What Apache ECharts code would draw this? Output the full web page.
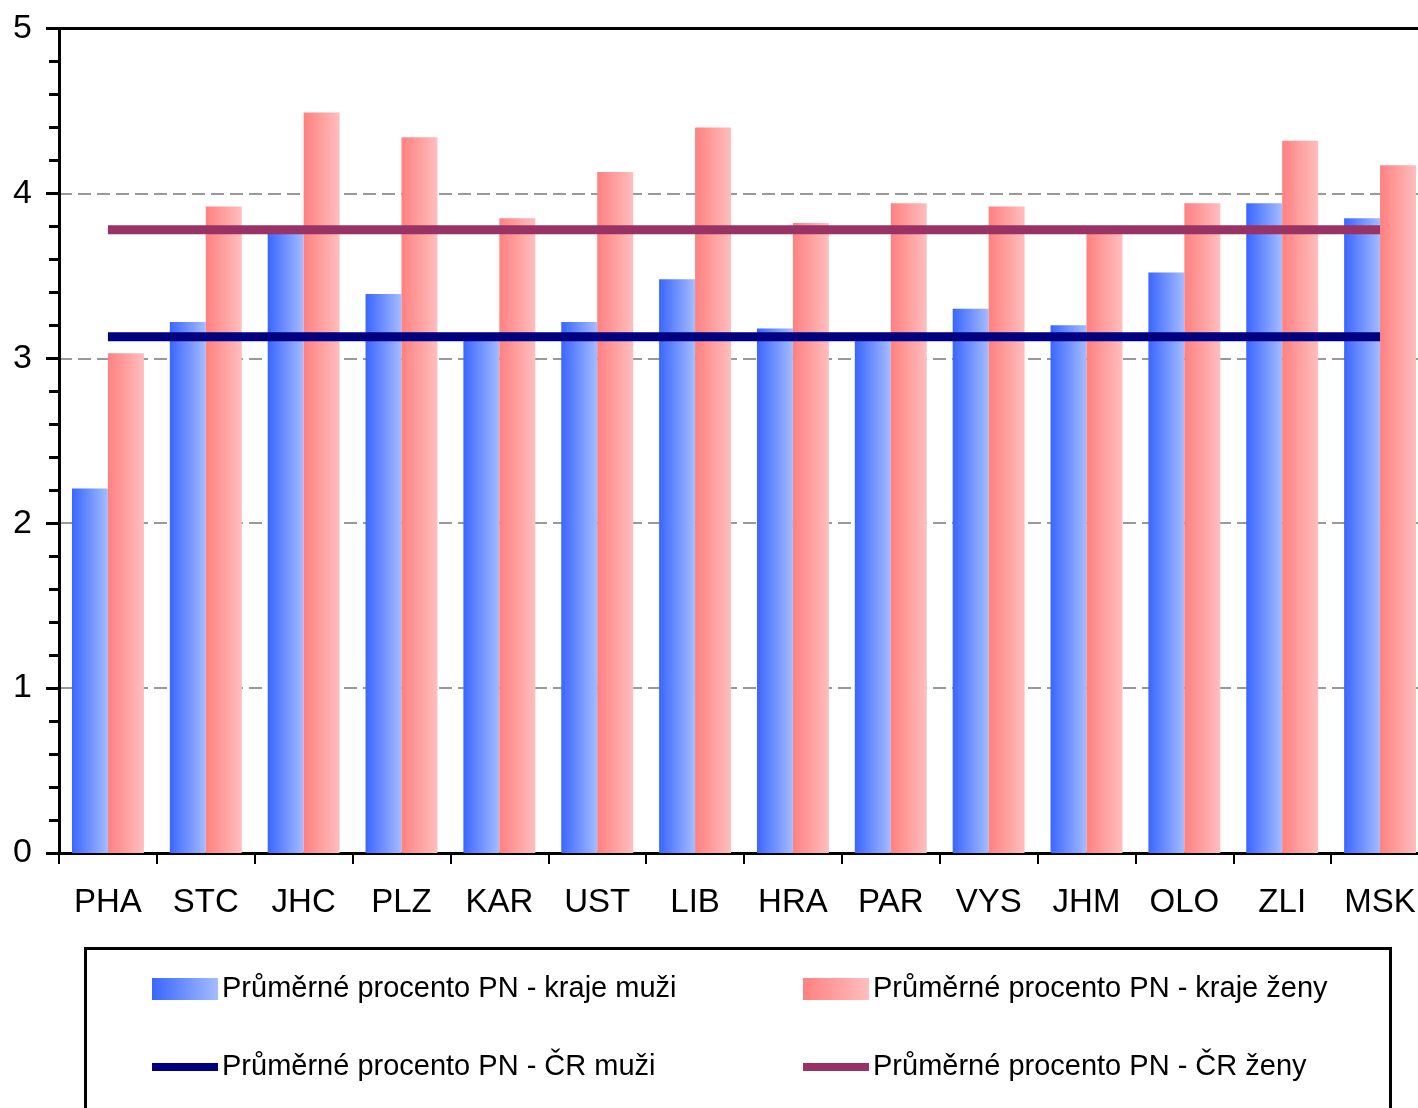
<!DOCTYPE html>
<html>
<head>
<meta charset="utf-8">
<script src="https://cdn.jsdelivr.net/npm/echarts@6/dist/echarts.min.js"></script>
<style>
html,body{margin:0;padding:0;background:#fff;}
#chart{width:1418px;height:1108px;}
</style>
</head>
<body>
<div id="chart"></div>
<script>
const categories = ['PHA','STC','JHC','PLZ','KAR','UST','LIB','HRA','PAR','VYS','JHM','OLO','ZLI','MSK'];
const krajeMuzi = [2.21,3.22,3.79,3.39,3.15,3.22,3.48,3.18,3.12,3.30,3.20,3.52,3.94,3.85];
const krajeZeny = [3.03,3.92,4.49,4.34,3.85,4.13,4.40,3.82,3.94,3.92,3.78,3.94,4.32,4.17];
const crMuzi = 3.13;
const crZeny = 3.78;
const yTicks = [0,1,2,3,4,5];

const names = [
  'Průměrné procento PN - kraje muži',
  'Průměrné procento PN - kraje ženy',
  'Průměrné procento PN - ČR muži',
  'Průměrné procento PN - ČR ženy'
];

const FONT = "'Liberation Sans', Arial, sans-serif";
const chart = echarts.init(document.getElementById('chart'));

function grad(c1, c2){
  return new echarts.graphic.LinearGradient(0,0,1,0,[{offset:0,color:c1},{offset:1,color:c2}]);
}
const blueGrad = grad('#3a66ff','#a4bcff');
const pinkGrad = grad('#ff8080','#ffbebe');

function legendAt(name, left, top, h){
  return {
    data:[{name:name, icon:'rect'}],
    left:left, top:top, padding:0,
    itemWidth:66, itemHeight:h, itemGap:0,
    textStyle:{fontFamily:FONT, fontSize:29, color:'#000', padding:[0,0,0,-1]},
    selectedMode:false
  };
}

chart.setOption({
  animation:false,
  backgroundColor:'#fff',
  grid:{left:59, top:28.5, width:1370, height:824.5, outerBoundsMode:'none', show:false},
  legend:[
    legendAt(names[0], 152, 974.5, 22),
    legendAt(names[1], 803, 974.5, 22),
    legendAt(names[2], 152, 1052.5, 8),
    legendAt(names[3], 803, 1052.5, 8)
  ],
  graphic:[{
    type:'rect', shape:{x:85.5, y:948.5, width:1305, height:200},
    style:{fill:'none', stroke:'#000', lineWidth:3}, z:-1
  },{
    type:'line', shape:{x1:57.5, y1:28.5, x2:1418, y2:28.5},
    style:{stroke:'#000', lineWidth:3}, z:100
  }],
  xAxis:{
    type:'category', data:categories, boundaryGap:true,
    axisLine:{lineStyle:{color:'#000', width:3}},
    axisTick:{show:true, length:11, lineStyle:{color:'#000', width:2}},
    axisLabel:{fontFamily:FONT, fontSize:33, color:'#000', margin:33, interval:0},
    splitLine:{show:false}
  },
  yAxis:{
    type:'value', min:yTicks[0], max:yTicks[yTicks.length-1], interval:1,
    axisLine:{show:true, lineStyle:{color:'#000', width:3}},
    axisTick:{show:true, length:13, lineStyle:{color:'#000', width:3}},
    minorTick:{show:true, splitNumber:5, length:10, lineStyle:{color:'#000', width:3}},
    axisLabel:{fontFamily:FONT, fontSize:34, color:'#000', margin:27},
    splitLine:{show:true, lineStyle:{color:'#999', width:2, type:[13,6]}}
  },
  series:[
    {name:names[0], type:'bar', data:krajeMuzi, barGap:'0%', barCategoryGap:'26.5%', itemStyle:{color:blueGrad}, z:2},
    {name:names[1], type:'bar', data:krajeZeny, barGap:'0%', barCategoryGap:'26.5%', itemStyle:{color:pinkGrad}, z:2},
    {name:names[2], type:'line', data:categories.map(()=>crMuzi), symbol:'none', lineStyle:{color:'#000080', width:9}, itemStyle:{color:'#000080'}, z:5},
    {name:names[3], type:'line', data:categories.map(()=>crZeny), symbol:'none', lineStyle:{color:'#993366', width:9}, itemStyle:{color:'#993366'}, z:5}
  ]
});
</script>
</body>
</html>
